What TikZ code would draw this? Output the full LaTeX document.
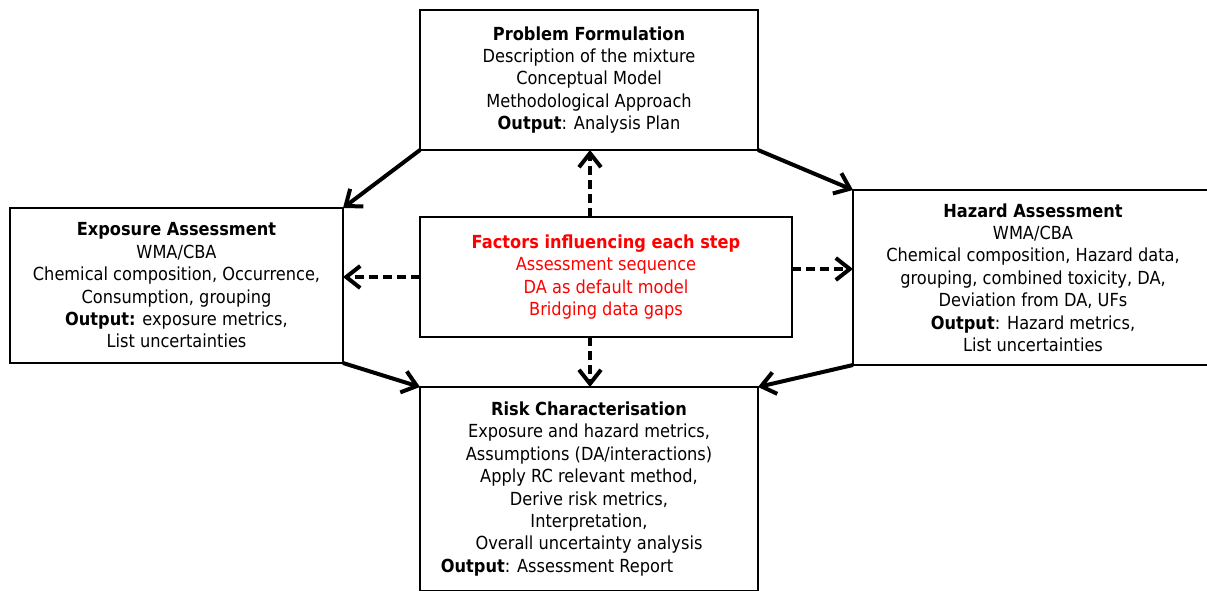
\documentclass[tikz,border=0pt]{standalone}
\usepackage{fontspec}
\setmainfont{DejaVu Sans}[FakeStretch=0.9]
\usetikzlibrary{arrows.meta, calc}
\usetikzlibrary{positioning}

\begin{document}
\begin{tikzpicture}[x=1pt, y=-1pt,
        box/.style={rectangle, draw, line width=2.5pt, align=center, anchor=north west, inner sep=0pt, outer sep=0pt, font=\fontsize{18}{22.4}\selectfont},
        flow/.style={line width=4pt, -{Straight Barb[length=14pt, width=22pt]}},
        link/.style={flow, dash pattern=on 9pt off 5pt}]

        \useasboundingbox (0,0) rectangle (1207,590);
        \clip (0,0) rectangle (1207,590);

        % steps
        \node[box, minimum width=338, minimum height=140] (pf) at (420,10) {\textbf{Problem Formulation}\\Description of the mixture\\Conceptual Model\\Methodological Approach\\\textbf{Output}: Analysis Plan};
        \node[box, minimum width=333, minimum height=155] (exp) at (10,208) {\textbf{Exposure Assessment}\\WMA/CBA\\Chemical composition, Occurrence,\\Consumption, grouping\\\textbf{Output:} exposure metrics,\\List uncertainties};
        \node[box, minimum width=360, minimum height=175] (haz) at (853,190) {\textbf{Hazard Assessment}\\WMA/CBA\\Chemical composition, Hazard data,\\grouping, combined toxicity, DA,\\Deviation from DA, UFs\\\textbf{Output}: Hazard metrics,\\List uncertainties};
        \node[box, minimum width=338, minimum height=204] (risk) at (420,387) {\textbf{Risk Characterisation}\\Exposure and hazard metrics,\\Assumptions (DA/interactions)\\Apply RC relevant method,\\Derive risk metrics,\\Interpretation,\\Overall uncertainty analysis\\\textbf{Output}: Assessment Report\hspace*{64pt}};

        % factors
        \node[box, minimum width=372, minimum height=120, text=red] (ctr) at (420,217) {\textbf{Factors influencing each step}\\Assessment sequence\\DA as default model\\Bridging data gaps};

        % steps to steps
        \draw[flow] (pf.south west) -- (exp.north east);
        \draw[flow] (pf.south east) -- (haz.north west);
        \draw[flow] (exp.south east) -- (risk.north west);
        \draw[flow] (haz.south west) -- (risk.north east);

        % factors to steps
        \coordinate (rt) at ([yshift=8pt]ctr.east);
        \coordinate (up) at ([xshift=-16pt]ctr.north);
        \coordinate (dn) at ([xshift=-16pt]ctr.south);
        \draw[link] (ctr.west) -- (ctr.west -| exp.east);
        \draw[link] (rt) -- (rt -| haz.west);
        \draw[link] (up) -- (up |- pf.south);
        \draw[link] (dn) -- (dn |- risk.north);

\end{tikzpicture}
\end{document}
